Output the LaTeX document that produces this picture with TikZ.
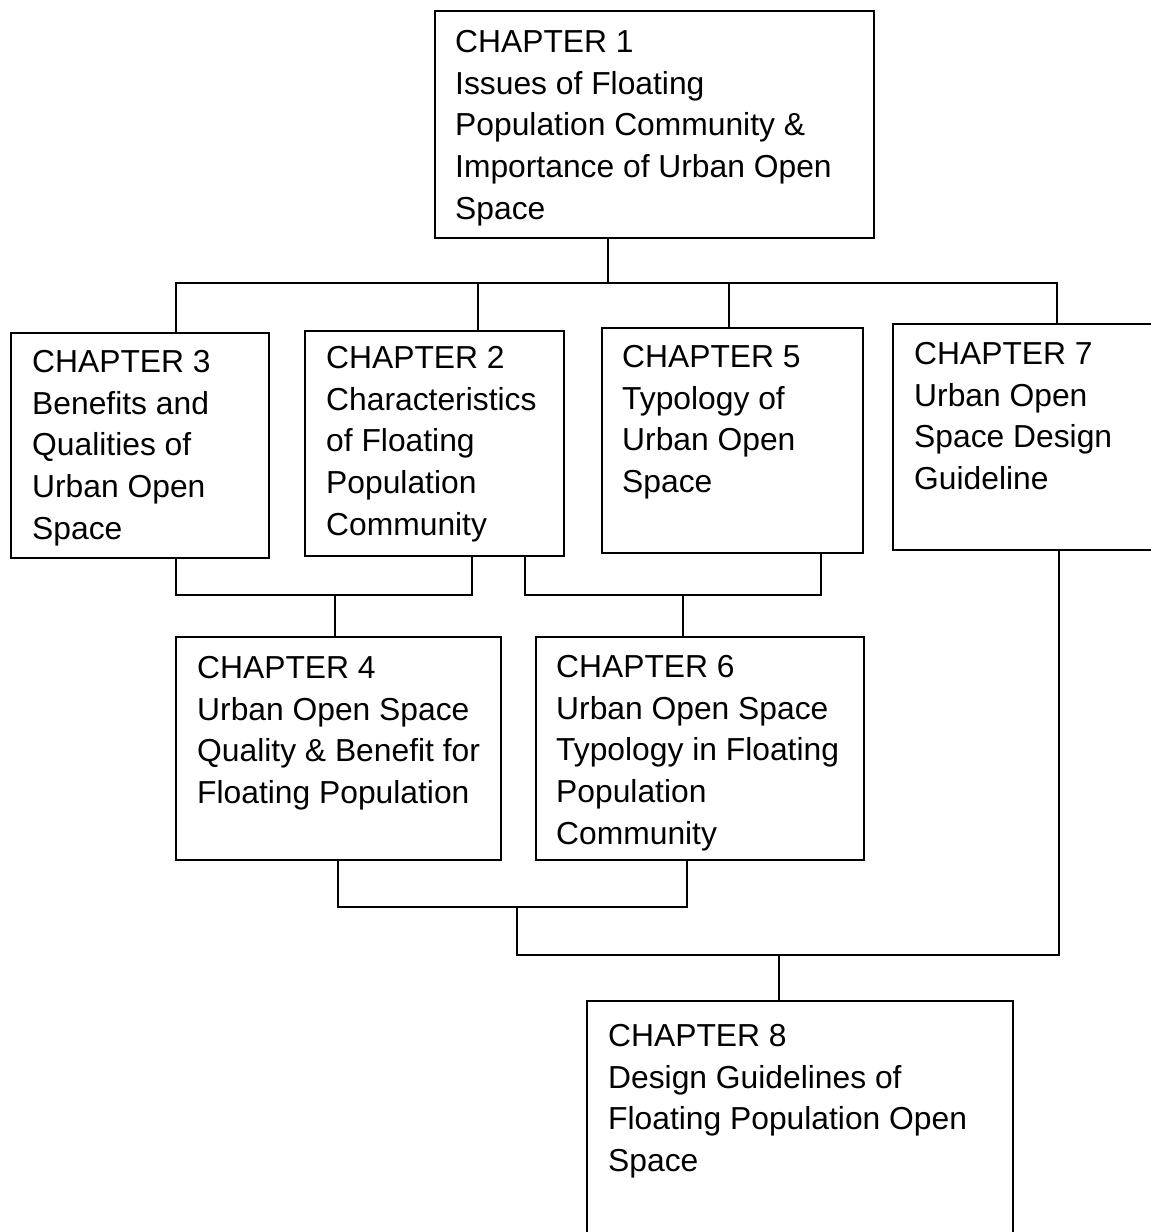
\documentclass[tikz,border=0pt]{standalone}
\usepackage{fontspec}
\setmainfont{Liberation Sans}
\usetikzlibrary{calc}

\begin{document}
\begin{tikzpicture}[x=1pt, y=-1pt,
    chapbox/.style={draw, rectangle, line width=1.6pt, anchor=north west, inner sep=0pt},
    chaptext/.style={anchor=north west, inner sep=0pt, align=left, font=\fontsize{31.8}{41.7}\selectfont},
    link/.style={line width=1.5pt}]
  \useasboundingbox (0,0) rectangle (1151,1232);

  \node[chapbox, minimum width=439pt, minimum height=227pt] (ch1) at (434,10) {};
  \node[chaptext] (ch1txt) at ($(ch1.north west)+(21,20)$) {CHAPTER 1\\Issues of Floating\\Population Community \&\\Importance of Urban Open\\Space};

  \node[chapbox, minimum width=258pt, minimum height=225pt] (ch3) at (10,332) {};
  \node[chaptext] (ch3txt) at ($(ch3.north west)+(22,18)$) {CHAPTER 3\\Benefits and\\Qualities of\\Urban Open\\Space};

  \node[chapbox, minimum width=259pt, minimum height=225pt] (ch2) at (304,330) {};
  \node[chaptext] (ch2txt) at ($(ch2.north west)+(22,16)$) {CHAPTER 2\\Characteristics\\of Floating\\Population\\Community};

  \node[chapbox, minimum width=261pt, minimum height=225pt] (ch5) at (601,327) {};
  \node[chaptext] (ch5txt) at ($(ch5.north west)+(21,18)$) {CHAPTER 5\\Typology of\\Urban Open\\Space};

  \node[chapbox, minimum width=264pt, minimum height=226pt] (ch7) at (892,323) {};
  \node[chaptext] (ch7txt) at ($(ch7.north west)+(22,19)$) {CHAPTER 7\\Urban Open\\Space Design\\Guideline};

  \node[chapbox, minimum width=325pt, minimum height=223pt] (ch4) at (175,636) {};
  \node[chaptext] (ch4txt) at ($(ch4.north west)+(22,20)$) {CHAPTER 4\\Urban Open Space\\Quality \& Benefit for\\Floating Population};

  \node[chapbox, minimum width=328pt, minimum height=223pt] (ch6) at (535,636) {};
  \node[chaptext] (ch6txt) at ($(ch6.north west)+(21,19)$) {CHAPTER 6\\Urban Open Space\\Typology in Floating\\Population\\Community};

  \node[chapbox, minimum width=426pt, minimum height=238pt] (ch8) at (586,1000) {};
  \node[chaptext] (ch8txt) at ($(ch8.north west)+(22,24)$) {CHAPTER 8\\Design Guidelines of\\Floating Population Open\\Space};

  % junctions
  \coordinate (top) at (608,283);
  \coordinate (mid34) at (335,595);
  \coordinate (mid56) at (683,595);
  \coordinate (low46) at (517,907);
  \coordinate (low8) at (779,955);

  \draw[link] (ch1.south -| top) -- (top);
  \draw[link] ($(ch3.north west)+(166,0)$) |- (top) -| ($(ch2.north west)+(174,0)$);
  \draw[link] (top) -| ($(ch5.north west)+(128,0)$);
  \draw[link] (top) -| ($(ch7.north west)+(165,0)$);

  \draw[link] ($(ch3.south west)+(166,0)$) |- (mid34) -| ($(ch2.south west)+(168,0)$);
  \draw[link] (mid34) -- (ch4.north -| mid34);
  \draw[link] ($(ch2.south west)+(221,0)$) |- (mid56) -| ($(ch5.south west)+(220,0)$);
  \draw[link] (mid56) -- (ch6.north -| mid56);

  \draw[link] ($(ch4.south west)+(163,0)$) |- (low46) -| ($(ch6.south west)+(152,0)$);
  \draw[link] (low46) |- (low8) -| ($(ch7.south west)+(167,0)$);
  \draw[link] (low8) -- (ch8.north -| low8);
\end{tikzpicture}
\end{document}
